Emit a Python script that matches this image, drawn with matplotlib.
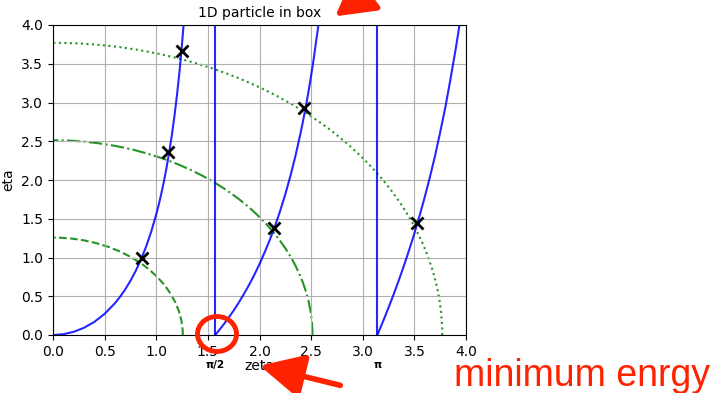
import numpy as np
import matplotlib
matplotlib.use("Agg")
from matplotlib import pyplot as plt
from matplotlib.patches import Arc, Ellipse

# blue branches: eta vs zeta
zeta1 = [0.0, 0.1, 0.2, 0.3, 0.4, 0.5, 0.6, 0.65, 0.7, 0.75, 0.8, 0.85, 0.9, 0.95, 1.0,
         1.025, 1.05, 1.075, 1.1, 1.125, 1.15, 1.175, 1.2, 1.225, 1.2375, 1.25, 1.26, 1.27]
eta1 = [0.0, 0.010, 0.041, 0.093, 0.169, 0.273, 0.410, 0.494, 0.590, 0.699, 0.824, 0.968, 1.134, 1.328, 1.557,
        1.687, 1.830, 1.988, 2.161, 2.356, 2.570, 2.812, 3.087, 3.396, 3.575, 3.762, 3.923, 4.094]
zeta2 = [1.5708, 1.6, 1.65, 1.7, 1.75, 1.8, 1.85, 1.9, 1.95, 2.0, 2.05, 2.1, 2.15, 2.2, 2.25,
         2.3, 2.35, 2.4, 2.425, 2.45, 2.475, 2.5, 2.525, 2.55, 2.565, 2.58]
eta2 = [0.0, 0.047, 0.131, 0.221, 0.317, 0.420, 0.531, 0.649, 0.777, 0.915, 1.067, 1.228, 1.406, 1.601, 1.817,
        2.055, 2.321, 2.620, 2.784, 2.956, 3.145, 3.347, 3.562, 3.808, 3.944, 4.104]
zeta3 = [3.1416, 3.2, 3.25, 3.3, 3.35, 3.4, 3.45, 3.5, 3.55, 3.6, 3.65, 3.7, 3.75, 3.8, 3.85, 3.9, 3.925, 3.95]
eta3 = [0.0, 0.187, 0.354, 0.527, 0.709, 0.899, 1.100, 1.311, 1.537, 1.777, 2.035, 2.311, 2.616, 2.939, 3.304,
        3.689, 3.898, 4.121]
asymptotes = [np.pi / 2, np.pi]

radii = [1.257, 2.513, 3.770]
circle_styles = ['--', '-.', ':']

# intersections (marked with x)
sol_zeta = [0.86, 1.115, 1.25, 2.14, 2.43, 3.525]
sol_eta = [1.00, 2.36, 3.66, 1.38, 2.93, 1.45]

red = '#ff2200'

fig = plt.figure(figsize=(7.15, 3.93), dpi=100)
ax = fig.add_axes([53/715, 1-335/393, 413/715, 310/393])

for z, e in [(zeta1, eta1), (zeta2, eta2), (zeta3, eta3)]:
    ax.plot(z, e, color='b', lw=1.5, alpha=0.85)
for a in asymptotes:
    ax.axvline(a, color='b', lw=1.5, alpha=0.85)

for r, ls in zip(radii, circle_styles):
    ax.add_patch(Arc((0, 0), 2*r, 2*r, theta1=0, theta2=90,
                     color='g', ls=ls, lw=1.5, alpha=0.85))

ax.plot(sol_zeta, sol_eta, 'kx', ms=9, mew=2)

ax.set_xlim(0, 4)
ax.set_ylim(0, 4)
ax.set_xticks(np.arange(0, 4.01, 0.5))
ax.set_yticks(np.arange(0, 4.01, 0.5))
ax.grid(True)
ax.set_title('1D particle in box', fontsize=10)
ax.set_xlabel('zeta', labelpad=0)
ax.set_ylabel('eta')

ax.text(np.pi/2, -0.39, 'π/2', ha='center', va='center', fontsize=7.5,
        fontweight='bold', transform=ax.transData, clip_on=False)
ax.text(np.pi, -0.39, 'π', ha='center', va='center', fontsize=7.5,
        fontweight='bold', transform=ax.transData, clip_on=False)

# red hand drawn marks
fig.patches.append(Ellipse((217/715, 1-334/393), 39/715, 35/393,
                           transform=fig.transFigure, fill=False, ec=red, lw=3.5))
fig.text(454/715, 1-376/393, 'minimum enrgy', fontsize=27, color=red,
         family='Liberation Sans', va='center', ha='left')
ax.annotate('', xy=(257/715, 1-365/393), xytext=(343/715, 1-386/393),
            xycoords='figure fraction', textcoords='figure fraction',
            arrowprops=dict(arrowstyle='-|>,head_length=0.9,head_width=0.45',
                            color=red, lw=4, mutation_scale=30))
ax.annotate('', xy=(333/715, 1-18/393), xytext=(390/715, 1+25/393),
            xycoords='figure fraction', textcoords='figure fraction',
            arrowprops=dict(arrowstyle='-|>,head_length=0.8,head_width=0.45',
                            color=red, lw=4, mutation_scale=30))

fig.savefig('out.png', dpi=100)
